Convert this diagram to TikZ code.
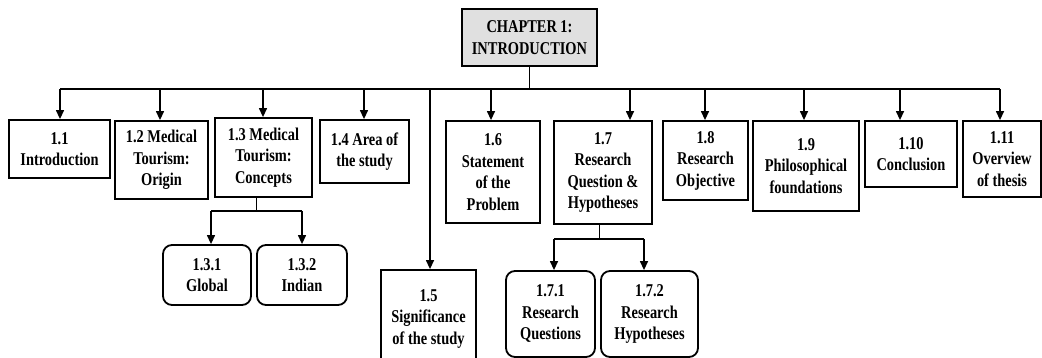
\documentclass[tikz,border=0pt]{standalone}
\usepackage{fontspec}
\setmainfont[FakeStretch=0.8]{Liberation Serif}
\usetikzlibrary{arrows.meta}
\tikzset{
  box/.style={draw, line width=1.8pt, inner sep=0pt, align=center,
    font=\fontsize{18}{21.5}\selectfont\bfseries},
  rbox/.style={box, rounded corners=9pt},
  head/.style={box, line width=1.3pt, fill=black!12},
  link/.style={line width=1.3pt},
  arr/.style={link, -{Triangle[length=9pt,width=8pt]}}
}
\begin{document}
\begin{tikzpicture}[x=1pt,y=-1pt]
\useasboundingbox (0,0) rectangle (1042,358);

% chapter heading
\node[head, minimum width=135pt, minimum height=57pt] (top) at (529.5,37.5) {CHAPTER 1:\\INTRODUCTION};

% first-level sections
\node[box, minimum width=101pt, minimum height=58pt] (s1) at (59.5,149) {1.1\\Introduction};
\node[box, minimum width=93pt, minimum height=78pt] (s2) at (161.5,160) {1.2 Medical\\Tourism:\\Origin};
\node[box, minimum width=97pt, minimum height=79pt] (s3) at (263.5,157.5) {1.3 Medical\\Tourism:\\Concepts};
\node[box, minimum width=89pt, minimum height=63pt] (s4) at (364.5,151.5) {1.4 Area of\\the study};
\node[box, minimum width=95pt, minimum height=98pt] (s5) at (428.5,319) {1.5\\Significance\\of the study};
\node[box, minimum width=94pt, minimum height=102pt] (s6) at (493,172) {1.6\\Statement\\of the\\Problem};
\node[box, minimum width=98pt, minimum height=103pt] (s7) at (603,172.5) {1.7\\Research\\Question \&\\Hypotheses};
\node[box, minimum width=85pt, minimum height=79pt] (s8) at (705.5,160.5) {1.8\\Research\\Objective};
\node[box, minimum width=106pt, minimum height=90pt] (s9) at (806,166) {1.9\\Philosophical\\foundations};
\node[box, minimum width=92pt, minimum height=66pt] (s10) at (911,154) {1.10\\Conclusion};
\node[box, minimum width=78pt, minimum height=76pt] (s11) at (1002,159) {1.11\\Overview\\of thesis};

% second-level sections
\node[rbox, minimum width=88pt, minimum height=60pt] (s31) at (207,275) {1.3.1\\Global};
\node[rbox, minimum width=90pt, minimum height=60pt] (s32) at (302,275) {1.3.2\\Indian};
\node[rbox, minimum width=89pt, minimum height=86pt] (s71) at (550.5,314) {1.7.1\\Research\\Questions};
\node[rbox, minimum width=97pt, minimum height=86pt] (s72) at (649.5,314) {1.7.2\\Research\\Hypotheses};

% main bus
\coordinate (b1) at (60,89);
\coordinate (b2) at (160,89);
\coordinate (b3) at (263,89);
\coordinate (b4) at (364,89);
\coordinate (b5) at (430,89);
\coordinate (b6) at (491,89);
\coordinate (b7) at (630,89);
\coordinate (b8) at (705,89);
\coordinate (b9) at (804,89);
\coordinate (b10) at (900,89);
\coordinate (b11) at (1000,89);

\draw[line width=1pt] (top.south) -- (top.south |- b1);
\draw[link] (b1) -- (b11);
\foreach \i in {1,...,11} \draw[arr] (b\i) -- (b\i |- s\i.north);

% branch under 1.3
\coordinate (c3) at (256,211);
\coordinate (c31) at (211,211);
\coordinate (c32) at (302,211);
\draw[line width=1pt] (c3 |- s3.south) -- (c3);
\draw[link] (c31) -- (c32);
\draw[arr] (c31) -- (c31 |- s31.north);
\draw[arr] (c32) -- (c32 |- s32.north);

% branch under 1.7
\coordinate (c7) at (599,239);
\coordinate (c71) at (554,239);
\coordinate (c72) at (644,239);
\draw[line width=1pt] (c7 |- s7.south) -- (c7);
\draw[link] (c71) -- (c72);
\draw[arr] (c71) -- (c71 |- s71.north);
\draw[arr] (c72) -- (c72 |- s72.north);
\end{tikzpicture}
\end{document}
